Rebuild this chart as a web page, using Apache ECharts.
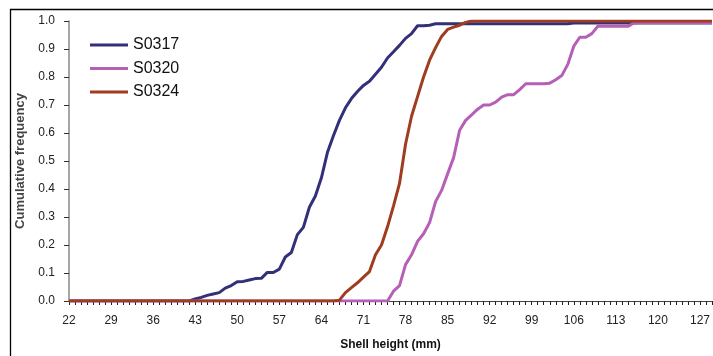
<!DOCTYPE html>
<html><head><meta charset="utf-8">
<script src="https://cdn.jsdelivr.net/npm/echarts@6/dist/echarts.min.js"></script>
<style>html,body{margin:0;padding:0;background:#fff;overflow:hidden}#c{width:713px;height:356px}</style>
</head><body><div id="c"></div>
<script>
const heights = [];
for (let h = 22; h <= 129; h++) heights.push(String(h));

// cumulative frequency values, sparse points by shell height (mm)
const s0317Points = {42:0,43:0.007,44:0.013,45:0.02,46:0.025,47:0.03,48:0.046,49:0.055,50:0.069,51:0.07,52:0.075,53:0.08,54:0.081,55:0.102,56:0.102,57:0.114,58:0.157,59:0.173,60:0.237,61:0.263,62:0.335,63:0.375,64:0.44,65:0.53,66:0.59,67:0.645,68:0.69,69:0.723,70:0.748,71:0.77,72:0.785,73:0.81,74:0.835,75:0.868,76:0.89,77:0.913,78:0.938,79:0.955,80:0.983,81:0.983,82:0.985,83:0.99,105:0.99,106:0.993,129:0.993};
const s0320Points = {75:0,76:0.035,77:0.055,78:0.13,79:0.165,80:0.213,81:0.24,82:0.28,83:0.355,84:0.395,85:0.454,86:0.512,87:0.61,88:0.645,89:0.665,90:0.685,91:0.7,92:0.7,93:0.71,94:0.728,95:0.737,96:0.737,97:0.755,98:0.776,99:0.776,100:0.776,101:0.776,102:0.778,103:0.79,104:0.805,105:0.845,106:0.91,107:0.942,108:0.942,109:0.955,110:0.981,111:0.981,112:0.981,113:0.981,114:0.981,115:0.981,116:0.993,117:0.995,129:0.995};
const s0324Points = {66:0,67:0.003,68:0.03,69:0.048,70:0.065,71:0.085,72:0.105,73:0.165,74:0.2,75:0.265,76:0.34,77:0.42,78:0.56,79:0.66,80:0.73,81:0.8,82:0.86,83:0.905,84:0.945,85:0.97,86:0.978,87:0.985,88:0.995,89:1.0,129:1.0};

// expand: before first listed point value is 0; between listed points the last value is held
function expand(pts) {
  const out = [];
  let last = 0;
  for (const h of heights) {
    if (pts[h] !== undefined) last = pts[h];
    out.push(last);
  }
  return out;
}
const s0317 = expand(s0317Points);
const s0320 = expand(s0320Points);
const s0324 = expand(s0324Points);

const FONT = '"Liberation Sans", Arial, sans-serif';
const chart = echarts.init(document.getElementById('c'), null, {renderer: 'canvas'});
chart.setOption({
  animation: false,
  backgroundColor: '#fff',
  grid: {left: 69, top: 21, width: 645, height: 284.7},
  legend: {
    orient: 'vertical', left: 90, top: 37, padding: 0, itemWidth: 38, itemHeight: 3, itemGap: 7.5,
    icon: 'rect',
    textStyle: {fontFamily: FONT, fontSize: 16, color: '#111'},
    data: ['S0317', 'S0320', 'S0324']
  },
  graphic: [{type: 'rect', shape: {x: 10.5, y: 9.5, width: 800, height: 400}, style: {fill: 'none', stroke: '#000', lineWidth: 1.3}, z: 100}],
  xAxis: {
    type: 'category', data: heights, boundaryGap: false,
    name: 'Shell height (mm)', nameLocation: 'middle', nameGap: 38,
    nameTextStyle: {fontFamily: FONT, fontSize: 12, fontWeight: 'bold', color: '#111'},
    axisLine: {lineStyle: {color: '#444', width: 1.2}},
    axisTick: {show: true, interval: 0, length: 4, lineStyle: {color: '#222'}},
    axisLabel: {interval: 6, margin: 14, fontFamily: FONT, fontSize: 12, color: '#222'},
    splitLine: {show: false}
  },
  yAxis: {
    type: 'value', min: 0, max: 1, interval: 0.1,
    name: 'Cumulative frequency', nameLocation: 'middle', nameGap: 34,
    nameTextStyle: {fontFamily: FONT, fontSize: 13, fontWeight: 'bold', color: '#444'},
    axisLine: {show: true, lineStyle: {color: '#888', width: 1.5}},
    axisTick: {show: true, length: 5, lineStyle: {color: '#333'}},
    axisLabel: {margin: 14, fontFamily: FONT, fontSize: 12, color: '#222', formatter: v => v.toFixed(1)},
    splitLine: {show: false}
  },
  series: [
    {name: 'S0317', type: 'line', data: s0317, showSymbol: false, symbol: 'none', lineStyle: {width: 3, color: '#33307A'}, itemStyle: {color: '#33307A'}},
    {name: 'S0320', type: 'line', data: s0320, showSymbol: false, symbol: 'none', lineStyle: {width: 3, color: '#B65FB6'}, itemStyle: {color: '#B65FB6'}},
    {name: 'S0324', type: 'line', data: s0324, showSymbol: false, symbol: 'none', lineStyle: {width: 3, color: '#A03C20'}, itemStyle: {color: '#A03C20'}}
  ]
});
</script></body></html>
